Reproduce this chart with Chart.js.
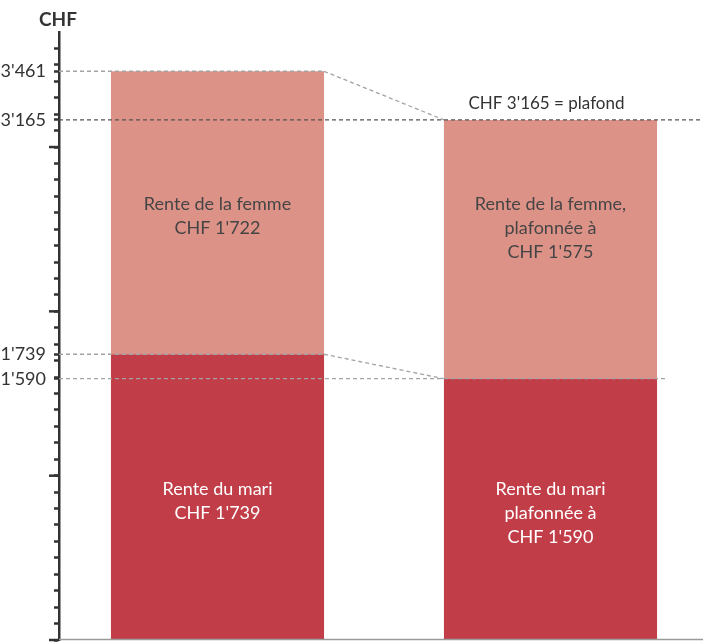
<!DOCTYPE html>
<html>
<head>
<meta charset="utf-8">
<script src="https://cdn.jsdelivr.net/npm/chart.js@4"></script>
<style>
html,body{margin:0;padding:0;background:#fff;}
#wrap{width:703px;height:644px;position:relative;}
</style>
</head>
<body>
<div id="wrap"><canvas id="c" width="703" height="644"></canvas></div>
<script>
// ---- data ----
const categories = ['Sans plafond', 'Avec plafond'];
const xPositions = [1, 2];
const husbandValues = [1739, 1590];
const wifeValues = [1722, 1575];
const labeledTicks = [3461, 3165, 1739, 1590];
const majorTicks = [0, 1000, 2000, 3000];
const husbandLabels = [["Rente du mari", "CHF 1'739"], ["Rente du mari", "plafonnée à", "CHF 1'590"]];
const wifeLabels = [["Rente de la femme", "CHF 1'722"], ["Rente de la femme,", "plafonnée à", "CHF 1'575"]];
const capLabel = "CHF 3'165 = plafond";
const capValue = 3165;
const axisTitle = 'CHF';
const yMax = 3700;
const minorStep = 100;

const fmt = v => String(v).replace(/\B(?=(\d{3})+(?!\d))/g, "'");
const FONT = 'Lato, "Open Sans", sans-serif';

const overlay = {
  id: 'overlay',
  afterDatasetsDraw(chart) {
    const ctx = chart.ctx;
    const ys = chart.scales.y;
    const area = chart.chartArea;
    const m0 = chart.getDatasetMeta(0).data;
    const m1 = chart.getDatasetMeta(1).data;
    const left = area.left, right = area.right;
    const b1R = m0[0].x + m0[0].width / 2;
    const b2L = m0[1].x - m0[1].width / 2, b2R = m0[1].x + m0[1].width / 2;
    const yTop1 = ys.getPixelForValue(husbandValues[0] + wifeValues[0]);
    const yTop2 = ys.getPixelForValue(husbandValues[1] + wifeValues[1]);
    const ySplit1 = ys.getPixelForValue(husbandValues[0]);
    const ySplit2 = ys.getPixelForValue(husbandValues[1]);
    const yCap = ys.getPixelForValue(capValue);

    ctx.save();
    const seg = (x1, y1, x2, y2) => { ctx.beginPath(); ctx.moveTo(x1, y1); ctx.lineTo(x2, y2); ctx.stroke(); };
    // bottom baseline
    ctx.strokeStyle = '#9a9a9a';
    ctx.lineWidth = 1.5;
    seg(left, area.bottom - 0.5, right, area.bottom - 0.5);

    // grey dashed guides
    ctx.setLineDash([4, 3]);
    ctx.strokeStyle = '#a3a3a3';
    ctx.lineWidth = 1.3;
    seg(left, yTop1, b1R, yTop1);
    seg(b1R, yTop1, b2L, yTop2);
    seg(left, ySplit1, b1R, ySplit1);
    seg(b1R, ySplit1, b2L, ySplit2);
    seg(left, ySplit2, b2R + 10, ySplit2);
    // cap line (dark)
    ctx.strokeStyle = '#555';
    ctx.lineWidth = 1.3;
    seg(left, yCap, right, yCap);
    ctx.setLineDash([]);

    // major ticks (longer)
    ctx.strokeStyle = '#333';
    ctx.lineWidth = 2.5;
    majorTicks.forEach(v => {
      const y = ys.getPixelForValue(v);
      seg(left - 10, y, left, y);
    });

    // cap label
    ctx.fillStyle = '#333';
    ctx.font = '17px ' + FONT;
    ctx.textAlign = 'center';
    ctx.textBaseline = 'middle';
    ctx.fillText(capLabel, m0[1].x - 4, yCap - 16);

    // bar texts
    ctx.font = '18px ' + FONT;
    const lineH = 24;
    const anchorTop = (m1[0].y + m1[0].base) / 2 - 9;
    const anchorBot = (m0[0].y + m0[0].base) / 2 - 8;
    [0, 1].forEach(i => {
      ctx.fillStyle = '#454545';
      wifeLabels[i].forEach((t, k) => ctx.fillText(t, m1[i].x, anchorTop + k * lineH));
      ctx.fillStyle = '#ffffff';
      husbandLabels[i].forEach((t, k) => ctx.fillText(t, m0[i].x, anchorBot + k * lineH));
    });

    // axis title
    ctx.fillStyle = '#333';
    ctx.font = 'bold 19px ' + FONT;
    ctx.fillText(axisTitle, left - 1, 20);
    ctx.restore();
  }
};

new Chart(document.getElementById('c'), {
  type: 'bar',
  data: {
    datasets: [
      {
        label: 'Rente du mari',
        data: xPositions.map((x, i) => ({ x: x, y: husbandValues[i] })),
        backgroundColor: '#c13e48',
        barPercentage: 0.64,
        categoryPercentage: 1.0
      },
      {
        label: 'Rente de la femme',
        data: xPositions.map((x, i) => ({ x: x, y: wifeValues[i] })),
        backgroundColor: '#dd9287',
        barPercentage: 0.64,
        categoryPercentage: 1.0
      }
    ]
  },
  options: {
    responsive: false,
    animation: false,
    layout: { padding: { top: 32, bottom: 4, left: 0, right: 0 } },
    plugins: { legend: { display: false }, tooltip: { enabled: false } },
    scales: {
      x: {
        type: 'linear',
        stacked: true,
        offset: false,
        min: 0.524,
        max: 2.458,
        display: false,
        afterBuildTicks(scale) { scale.ticks = xPositions.map(v => ({ value: v })); }
      },
      y: {
        stacked: true,
        min: 0,
        max: yMax,
        afterFit(scale) {
          scale.width = 59;
          scale.paddingTop = 0;
          scale.paddingBottom = 0;
        },
        afterBuildTicks(scale) {
          const t = [];
          for (let v = 0; v <= yMax - minorStep; v += minorStep) t.push({ value: v });
          labeledTicks.forEach(v => t.push({ value: v }));
          t.sort((a, b) => a.value - b.value);
          scale.ticks = t;
        },
        border: { display: true, color: '#333', width: 2.5 },
        grid: {
          drawOnChartArea: false,
          drawTicks: true,
          tickLength: 5,
          tickColor: '#333',
          tickWidth: 2.5
        },
        ticks: {
          autoSkip: false,
          padding: 8,
          color: '#333',
          font: { family: FONT, size: 18 },
          callback(v) { return labeledTicks.includes(v) ? fmt(v) : ''; }
        }
      }
    }
  },
  plugins: [overlay]
});
</script>
</body>
</html>
